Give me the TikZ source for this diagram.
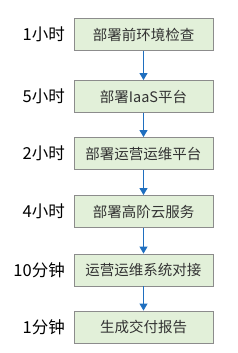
\documentclass[tikz,border=0pt]{standalone}
\usepackage{fontspec}
\setmainfont{Noto Sans CJK SC}
\usetikzlibrary{arrows.meta}
\definecolor{boxfill}{HTML}{E2F0D9}
\definecolor{boxline}{HTML}{8C8C8C}
\definecolor{arrowblue}{HTML}{1F6FBF}
\begin{document}
\begin{tikzpicture}[x=1bp,y=-1bp,
  stepbox/.style={draw=boxline,fill=boxfill,line width=0.9bp,minimum width=139bp,minimum height=32bp,inner sep=0pt,font=\fontsize{14.5bp}{16bp}\selectfont,text=black!80},
  timelabel/.style={anchor=east,inner sep=0pt,font=\fontsize{16.5bp}{18bp}\selectfont},
  flow/.style={draw=arrowblue,line width=1bp,-{Triangle[length=7bp,width=8bp]}}]
\useasboundingbox (0,0) rectangle (238,353);
\node[stepbox] (b1) at (143.5,34.5) {部署前环境检查};
\node[stepbox] (b2) at (143.5,96.5) {部署IaaS平台};
\node[stepbox] (b3) at (143.5,153.5) {部署运营运维平台};
\node[stepbox] (b4) at (143.5,211.5) {部署高阶云服务};
\node[stepbox] (b5) at (143.5,270) {运营运维系统对接};
\node[stepbox] (b6) at (143.5,327) {生成交付报告};
\node[timelabel] (t1) at (65,34.5) {1小时};
\node[timelabel] (t2) at (65,96.5) {5小时};
\node[timelabel] (t3) at (65,153.5) {2小时};
\node[timelabel] (t4) at (65,211.5) {4小时};
\node[timelabel] (t5) at (65,270) {10分钟};
\node[timelabel] (t6) at (65,327) {1分钟};
\draw[flow] (b1) -- (b2);
\draw[flow] (b2) -- (b3);
\draw[flow] (b3) -- (b4);
\draw[flow] (b4) -- (b5);
\draw[flow] (b5) -- (b6);
\end{tikzpicture}
\end{document}
